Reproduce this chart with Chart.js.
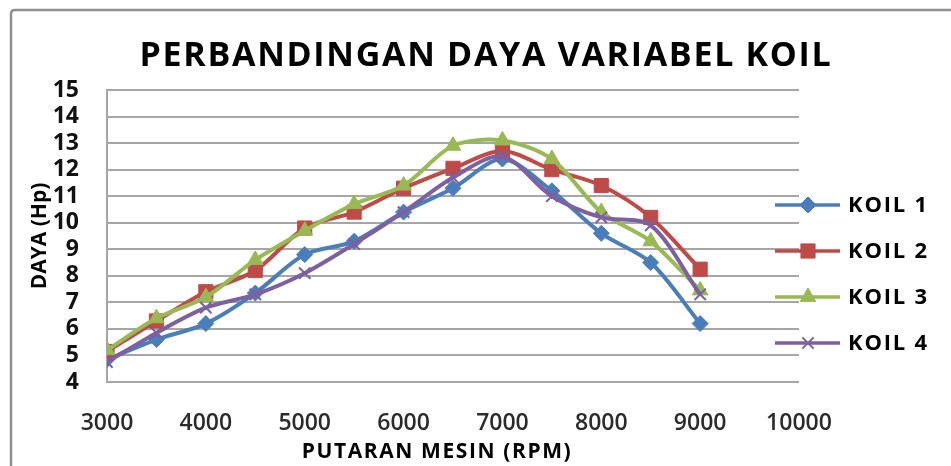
<!DOCTYPE html>
<html>
<head>
<meta charset="utf-8">
<title>Perbandingan Daya Variabel Koil</title>
<script src="https://cdn.jsdelivr.net/npm/chart.js@4.4.1/dist/chart.umd.min.js"></script>
<style>
  html, body { margin: 0; padding: 0; background: #fff; overflow: hidden; }
  #wrap { position: relative; width: 951px; height: 466px; overflow: hidden; }
  #chart { position: absolute; left: 0; top: 0; }
</style>
</head>
<body>
<div id="wrap">
  <canvas id="chart" width="951" height="466"></canvas>
</div>
<script>
// =============== DATA ===============

const chartTitle = "PERBANDINGAN DAYA VARIABEL KOIL";
const xTitle = "PUTARAN MESIN (RPM)";
const yTitle = "DAYA (Hp)";

// rpm points measured
const rpm = [3000, 3500, 4000, 4500, 5000, 5500, 6000, 6500, 7000, 7500, 8000, 8500, 9000];

// power (Hp) per coil
const koil1 = [4.85, 5.6, 6.2, 7.35, 8.8, 9.3, 10.4, 11.3, 12.4, 11.2, 9.6, 8.5, 6.2];
const koil2 = [5.15, 6.3, 7.4, 8.2, 9.8, 10.4, 11.3, 12.05, 12.7, 12.0, 11.4, 10.2, 8.25];
const koil3 = [5.2, 6.4, 7.2, 8.6, 9.7, 10.7, 11.4, 12.9, 13.1, 12.4, 10.4, 9.3, 7.45];
const koil4 = [4.75, 5.85, 6.8, 7.3, 8.1, 9.2, 10.4, 11.7, 12.5, 11.0, 10.2, 9.9, 7.3];

const seriesNames = ["KOIL 1", "KOIL 2", "KOIL 3", "KOIL 4"];
const seriesValues = [koil1, koil2, koil3, koil4];

// axis ranges / ticks
const xMin = 3000, xMax = 10000, xStep = 1000;
const yMin = 4, yMax = 15, yStep = 1;


// =============== STYLE ===============

const seriesColors = ["#4A7EBB", "#BE4B48", "#98B954", "#7D60A0"];
const seriesMarkers = [
  { style: "rectRot", radius: 8, border: 1 },
  { style: "rect", radius: 10, border: 1 },
  { style: "triangle", radius: 9, border: 1 },
  { style: "crossRot", radius: 8, border: 2 },
];
const gridColor = "#a6a6a6";
const fontFamily = "'Open Sans', 'Liberation Sans', sans-serif";


// =============== PLUGINS ===============

function drawSpacedText(ctx, text, x, y, font, spacing, align) {
  ctx.save();
  ctx.font = font;
  if ("letterSpacing" in ctx) ctx.letterSpacing = spacing;
  ctx.fillStyle = "#000";
  ctx.textAlign = align;
  ctx.textBaseline = "middle";
  ctx.fillText(text, x, y);
  ctx.restore();
}

// outer chart border (runs off the right and bottom edge in the original)
const framePlugin = {
  id: "frame",
  beforeDraw(chart) {
    const ctx = chart.ctx;
    ctx.save();
    ctx.fillStyle = "#fff";
    ctx.fillRect(0, 0, chart.width, chart.height);
    ctx.strokeStyle = "#8f8f8f";
    ctx.lineWidth = 2.5;
    ctx.beginPath();
    ctx.moveTo(11, chart.height + 5);
    ctx.lineTo(11, 14);
    ctx.quadraticCurveTo(11, 10, 15, 10);
    ctx.lineTo(chart.width + 5, 10);
    ctx.stroke();
    ctx.restore();
  },
};

// title + x title drawn by hand so they sit where the original has them
const titlePlugin = {
  id: "titleAt",
  afterDraw(chart) {
    const ctx = chart.ctx;
    drawSpacedText(ctx, chartTitle, 486, 56, "bold 34px " + fontFamily, "1.7px", "center");
    drawSpacedText(ctx, xTitle, 437, 452, "bold 21px " + fontFamily, "1.6px", "center");
  },
};

// excel-style legend: line with marker in the middle, overlapping the grid end
const legendPlugin = {
  id: "excelLegend",
  afterDraw(chart) {
    const ctx = chart.ctx;
    chart.data.datasets.forEach((ds, i) => {
      const y = 205 + i * 46;
      ctx.save();
      ctx.strokeStyle = ds.borderColor;
      ctx.lineWidth = 3.5;
      ctx.beginPath();
      ctx.moveTo(775, y);
      ctx.lineTo(840, y);
      ctx.stroke();

      ctx.fillStyle = ds.pointBackgroundColor;
      ctx.strokeStyle = ds.pointBorderColor;
      ctx.lineWidth = ds.pointBorderWidth;
      Chart.helpers.drawPoint(ctx, {
        pointStyle: ds.pointStyle,
        radius: ds.pointRadius,
        borderWidth: ds.pointBorderWidth,
        rotation: 0,
      }, 808, y);
      ctx.restore();

      drawSpacedText(ctx, ds.label, 848, y + 1, "bold 22px " + fontFamily, "1.8px", "left");
    });
  },
};


// =============== CHART ===============

function buildDatasets() {
  return seriesNames.map((name, i) => ({
    label: name,
    data: rpm.map((r, j) => ({ x: r, y: seriesValues[i][j] })),
    borderColor: seriesColors[i],
    backgroundColor: seriesColors[i],
    borderWidth: 4,
    tension: 0.3,
    pointStyle: seriesMarkers[i].style,
    pointRadius: seriesMarkers[i].radius,
    pointBorderWidth: seriesMarkers[i].border,
    pointBackgroundColor: seriesColors[i],
    pointBorderColor: seriesColors[i],
    // later series drawn on top like excel
    order: seriesNames.length - i,
  }));
}

function loadChart() {
  const ctx = document.getElementById("chart");

  new Chart(ctx, {
    type: "line",
    data: { datasets: buildDatasets() },
    options: {
      responsive: false,
      animation: false,
      layout: {
        autoPadding: false,
        padding: { left: 0, top: 90, right: 152, bottom: 0 },
      },
      plugins: {
        legend: { display: false },
        title: { display: false },
        tooltip: { enabled: false },
      },
      scales: {
        x: {
          type: "linear",
          min: xMin,
          max: xMax,
          grid: { display: false },
          border: { display: false },
          ticks: {
            stepSize: xStep,
            autoSkip: false,
            maxRotation: 0,
            padding: 20,
            color: "#2b2b2b",
            font: { family: fontFamily, size: 23, weight: "600" },
            callback: (v) => String(v),
          },
          afterFit(scale) { scale.height = 84; },
        },
        y: {
          min: yMin,
          max: yMax,
          grid: { color: gridColor, lineWidth: 2, drawTicks: false },
          border: { display: true, color: gridColor, width: 2 },
          ticks: {
            stepSize: yStep,
            autoSkip: false,
            padding: 28,
            color: "#111",
            font: { family: fontFamily, size: 23, weight: "bold" },
          },
          title: {
            display: true,
            text: yTitle,
            color: "#000",
            padding: { top: 27, bottom: 0 },
            font: { family: fontFamily, size: 21, weight: "bold" },
          },
          afterFit(scale) { scale.width = 107; },
        },
      },
    },
    plugins: [framePlugin, titlePlugin, legendPlugin],
  });
}


// =============== INIT ===============

document.addEventListener("DOMContentLoaded", () => {
  loadChart();
});
</script>
</body>
</html>
